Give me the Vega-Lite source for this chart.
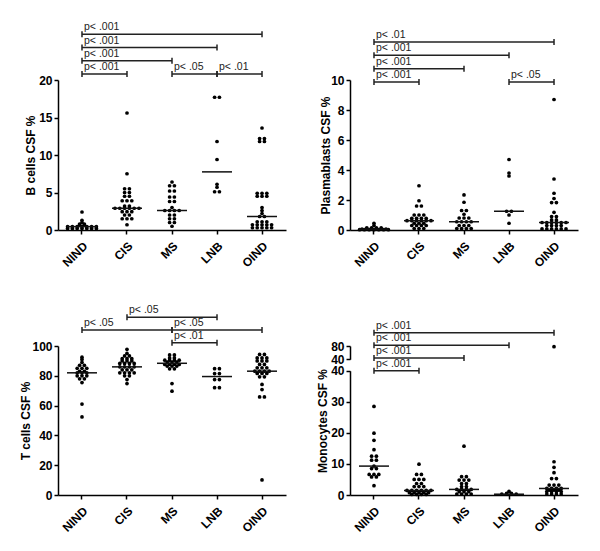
{
  "$schema": "https://vega.github.io/schema/vega-lite/v6.json",
  "background": "white",
  "padding": {"left": 19, "top": 22, "right": 5, "bottom": 5},
  "config": {
    "view": {"stroke": null},
    "font": "Liberation Sans",
    "axis": {"grid": false, "domainColor": "#000", "domainWidth": 1.5, "tickColor": "#000", "tickWidth": 1.5, "tickSize": 4, "labelFont": "Liberation Sans", "labelFontSize": 12, "labelFontWeight": "bold", "labelColor": "#000", "labelPadding": 2, "titleFont": "Liberation Sans", "titleFontSize": 12, "titleFontWeight": "bold", "titleColor": "#000", "labelFlush": false, "labelOverlap": false},
    "axisX": {"labelAngle": -45, "labelAlign": "right", "labelBaseline": "top", "labelPadding": 6},
    "axisY": {"titleBaseline": "middle", "titleAlign": "center", "titleAngle": -90}
  },
  "datasets": {
    "p1": [
      {"g":"NIND","v":2.4},{"g":"NIND","v":1.3},{"g":"NIND","v":1.0},{"g":"NIND","v":0.8},{"g":"NIND","v":0.8},{"g":"NIND","v":0.65},{"g":"NIND","v":0.65},
      {"g":"NIND","v":0.45},{"g":"NIND","v":0.45},{"g":"NIND","v":0.45},{"g":"NIND","v":0.45},{"g":"NIND","v":0.45},{"g":"NIND","v":0.45},{"g":"NIND","v":0.45},
      {"g":"NIND","v":0.2},{"g":"NIND","v":0.2},{"g":"NIND","v":0.2},{"g":"NIND","v":0.2},{"g":"NIND","v":0.2},{"g":"NIND","v":0.2},{"g":"NIND","v":0.2},
      {"g":"CIS","v":15.6},{"g":"CIS","v":7.5},{"g":"CIS","v":5.5},{"g":"CIS","v":5.5},{"g":"CIS","v":5.0},{"g":"CIS","v":5.0},{"g":"CIS","v":4.5},{"g":"CIS","v":4.5},
      {"g":"CIS","v":3.9},{"g":"CIS","v":3.9},{"g":"CIS","v":3.9},{"g":"CIS","v":3.2},{"g":"CIS","v":3.2},
      {"g":"CIS","v":2.9},{"g":"CIS","v":2.9},{"g":"CIS","v":2.9},{"g":"CIS","v":2.9},{"g":"CIS","v":2.9},{"g":"CIS","v":2.9},
      {"g":"CIS","v":2.45},{"g":"CIS","v":2.45},{"g":"CIS","v":2.45},{"g":"CIS","v":2.0},{"g":"CIS","v":2.0},{"g":"CIS","v":1.5},{"g":"CIS","v":1.5},{"g":"CIS","v":1.5},{"g":"CIS","v":0.7},
      {"g":"MS","v":6.4},{"g":"MS","v":5.9},{"g":"MS","v":5.9},{"g":"MS","v":5.2},{"g":"MS","v":5.2},{"g":"MS","v":4.4},{"g":"MS","v":4.4},{"g":"MS","v":3.8},{"g":"MS","v":3.8},{"g":"MS","v":3.0},
      {"g":"MS","v":2.6},{"g":"MS","v":2.6},{"g":"MS","v":2.6},{"g":"MS","v":2.6},{"g":"MS","v":2.0},{"g":"MS","v":2.0},{"g":"MS","v":1.5},{"g":"MS","v":1.5},{"g":"MS","v":1.0},{"g":"MS","v":1.0},{"g":"MS","v":0.5},
      {"g":"LNB","v":17.7},{"g":"LNB","v":17.7},{"g":"LNB","v":11.8},{"g":"LNB","v":9.4},{"g":"LNB","v":6.1},{"g":"LNB","v":5.7},{"g":"LNB","v":5.1},{"g":"LNB","v":5.1},
      {"g":"OIND","v":13.6},{"g":"OIND","v":12.2},{"g":"OIND","v":12.2},{"g":"OIND","v":11.8},{"g":"OIND","v":11.8},{"g":"OIND","v":4.9},{"g":"OIND","v":4.9},{"g":"OIND","v":4.9},
      {"g":"OIND","v":4.5},{"g":"OIND","v":4.5},{"g":"OIND","v":4.5},{"g":"OIND","v":3.0},{"g":"OIND","v":2.6},{"g":"OIND","v":2.2},{"g":"OIND","v":1.8},{"g":"OIND","v":1.8},
      {"g":"OIND","v":1.1},{"g":"OIND","v":1.1},{"g":"OIND","v":1.1},{"g":"OIND","v":0.7},{"g":"OIND","v":0.7},{"g":"OIND","v":0.7},{"g":"OIND","v":0.7},{"g":"OIND","v":0.7},
      {"g":"OIND","v":0.3},{"g":"OIND","v":0.3},{"g":"OIND","v":0.3},{"g":"OIND","v":0.3},{"g":"OIND","v":0.3}
    ],
    "p2": [
      {"g":"NIND","v":0.45},{"g":"NIND","v":0.3},{"g":"NIND","v":0.15},{"g":"NIND","v":0.15},{"g":"NIND","v":0.15},{"g":"NIND","v":0.15},
      {"g":"NIND","v":0.06},{"g":"NIND","v":0.06},{"g":"NIND","v":0.06},{"g":"NIND","v":0.06},{"g":"NIND","v":0.06},{"g":"NIND","v":0.06},
      {"g":"NIND","v":0.02},{"g":"NIND","v":0.02},{"g":"NIND","v":0.02},{"g":"NIND","v":0.02},{"g":"NIND","v":0.02},{"g":"NIND","v":0.02},{"g":"NIND","v":0.02},
      {"g":"CIS","v":2.95},{"g":"CIS","v":1.95},{"g":"CIS","v":1.6},{"g":"CIS","v":1.6},{"g":"CIS","v":1.0},{"g":"CIS","v":1.0},{"g":"CIS","v":1.0},
      {"g":"CIS","v":0.78},{"g":"CIS","v":0.78},{"g":"CIS","v":0.78},{"g":"CIS","v":0.78},
      {"g":"CIS","v":0.62},{"g":"CIS","v":0.62},{"g":"CIS","v":0.62},{"g":"CIS","v":0.62},{"g":"CIS","v":0.62},{"g":"CIS","v":0.62},
      {"g":"CIS","v":0.45},{"g":"CIS","v":0.45},{"g":"CIS","v":0.45},{"g":"CIS","v":0.3},{"g":"CIS","v":0.3},{"g":"CIS","v":0.3},{"g":"CIS","v":0.3},{"g":"CIS","v":0.1},{"g":"CIS","v":0.1},{"g":"CIS","v":0.1},
      {"g":"MS","v":2.34},{"g":"MS","v":1.85},{"g":"MS","v":1.3},{"g":"MS","v":1.3},{"g":"MS","v":1.05},{"g":"MS","v":0.8},{"g":"MS","v":0.8},{"g":"MS","v":0.8},
      {"g":"MS","v":0.55},{"g":"MS","v":0.55},{"g":"MS","v":0.55},{"g":"MS","v":0.55},{"g":"MS","v":0.3},{"g":"MS","v":0.3},{"g":"MS","v":0.3},
      {"g":"MS","v":0.1},{"g":"MS","v":0.1},{"g":"MS","v":0.1},{"g":"MS","v":0.1},
      {"g":"LNB","v":4.7},{"g":"LNB","v":3.8},{"g":"LNB","v":3.6},{"g":"LNB","v":1.25},{"g":"LNB","v":1.25},{"g":"LNB","v":1.0},{"g":"LNB","v":0.45},
      {"g":"OIND","v":8.7},{"g":"OIND","v":3.4},{"g":"OIND","v":2.45},{"g":"OIND","v":2.1},{"g":"OIND","v":1.83},{"g":"OIND","v":1.83},{"g":"OIND","v":1.18},
      {"g":"OIND","v":0.9},{"g":"OIND","v":0.9},{"g":"OIND","v":0.67},{"g":"OIND","v":0.67},
      {"g":"OIND","v":0.5},{"g":"OIND","v":0.5},{"g":"OIND","v":0.5},{"g":"OIND","v":0.5},{"g":"OIND","v":0.5},{"g":"OIND","v":0.5},
      {"g":"OIND","v":0.3},{"g":"OIND","v":0.3},{"g":"OIND","v":0.3},{"g":"OIND","v":0.3},
      {"g":"OIND","v":0.07},{"g":"OIND","v":0.07},{"g":"OIND","v":0.07},{"g":"OIND","v":0.07},{"g":"OIND","v":0.07},{"g":"OIND","v":0.07}
    ],
    "p3": [
      {"g":"NIND","v":92.5},{"g":"NIND","v":91},{"g":"NIND","v":89},{"g":"NIND","v":87},{"g":"NIND","v":87},{"g":"NIND","v":85},{"g":"NIND","v":85},{"g":"NIND","v":85},
      {"g":"NIND","v":83},{"g":"NIND","v":83},{"g":"NIND","v":82},{"g":"NIND","v":82},{"g":"NIND","v":82},{"g":"NIND","v":80},{"g":"NIND","v":80},{"g":"NIND","v":80},
      {"g":"NIND","v":78},{"g":"NIND","v":78},{"g":"NIND","v":75.5},{"g":"NIND","v":61},{"g":"NIND","v":52.4},
      {"g":"CIS","v":97.8},{"g":"CIS","v":95},{"g":"CIS","v":93.3},{"g":"CIS","v":93.3},{"g":"CIS","v":91.5},{"g":"CIS","v":91.5},{"g":"CIS","v":91.5},
      {"g":"CIS","v":90},{"g":"CIS","v":90},{"g":"CIS","v":90},{"g":"CIS","v":88.3},{"g":"CIS","v":88.3},{"g":"CIS","v":88.3},{"g":"CIS","v":88.3},
      {"g":"CIS","v":86},{"g":"CIS","v":86},{"g":"CIS","v":86},{"g":"CIS","v":86},{"g":"CIS","v":84},{"g":"CIS","v":84},{"g":"CIS","v":84},
      {"g":"CIS","v":82},{"g":"CIS","v":82},{"g":"CIS","v":82},{"g":"CIS","v":82},{"g":"CIS","v":80},{"g":"CIS","v":80},{"g":"CIS","v":77.5},{"g":"CIS","v":74.8},
      {"g":"MS","v":94},{"g":"MS","v":94},{"g":"MS","v":92},{"g":"MS","v":92},{"g":"MS","v":90.5},{"g":"MS","v":90.5},{"g":"MS","v":90.5},{"g":"MS","v":90.5},
      {"g":"MS","v":89.2},{"g":"MS","v":89.2},{"g":"MS","v":89.2},{"g":"MS","v":87.6},{"g":"MS","v":87.6},{"g":"MS","v":87.6},{"g":"MS","v":87.6},
      {"g":"MS","v":86.5},{"g":"MS","v":86.5},{"g":"MS","v":86.5},{"g":"MS","v":84.7},{"g":"MS","v":84.7},{"g":"MS","v":74.8},{"g":"MS","v":69.7},
      {"g":"LNB","v":84.8},{"g":"LNB","v":84.8},{"g":"LNB","v":81.5},{"g":"LNB","v":81.5},{"g":"LNB","v":77.5},{"g":"LNB","v":77.5},{"g":"LNB","v":72},{"g":"LNB","v":72},
      {"g":"OIND","v":94.3},{"g":"OIND","v":94.3},{"g":"OIND","v":92},{"g":"OIND","v":92},{"g":"OIND","v":92},{"g":"OIND","v":90},{"g":"OIND","v":90},{"g":"OIND","v":90},
      {"g":"OIND","v":87.6},{"g":"OIND","v":87.6},{"g":"OIND","v":85.4},{"g":"OIND","v":85.4},{"g":"OIND","v":85.4},
      {"g":"OIND","v":83.1},{"g":"OIND","v":83.1},{"g":"OIND","v":83.1},{"g":"OIND","v":83.1},{"g":"OIND","v":81.6},{"g":"OIND","v":81.6},{"g":"OIND","v":81.6},
      {"g":"OIND","v":79.3},{"g":"OIND","v":79.3},{"g":"OIND","v":74.2},{"g":"OIND","v":70.8},{"g":"OIND","v":65.8},{"g":"OIND","v":65.8},{"g":"OIND","v":10.1}
    ],
    "p4": [
      {"g":"NIND","v":28.5},{"g":"NIND","v":19.9},{"g":"NIND","v":17.6},{"g":"NIND","v":14.6},{"g":"NIND","v":12.5},{"g":"NIND","v":12.5},{"g":"NIND","v":11.2},{"g":"NIND","v":11.2},
      {"g":"NIND","v":9.3},{"g":"NIND","v":8.5},{"g":"NIND","v":8.5},{"g":"NIND","v":6.6},{"g":"NIND","v":6.6},{"g":"NIND","v":6.6},{"g":"NIND","v":5.8},{"g":"NIND","v":5.8},{"g":"NIND","v":3.0},
      {"g":"CIS","v":9.9},{"g":"CIS","v":6.6},{"g":"CIS","v":6.6},{"g":"CIS","v":5.0},{"g":"CIS","v":5.0},{"g":"CIS","v":5.0},{"g":"CIS","v":3.7},{"g":"CIS","v":3.7},
      {"g":"CIS","v":2.7},{"g":"CIS","v":2.7},{"g":"CIS","v":2.7},{"g":"CIS","v":1.45},{"g":"CIS","v":1.45},{"g":"CIS","v":1.45},{"g":"CIS","v":1.45},{"g":"CIS","v":1.45},{"g":"CIS","v":1.45},
      {"g":"CIS","v":0.75},{"g":"CIS","v":0.75},{"g":"CIS","v":0.75},{"g":"CIS","v":0.75},{"g":"CIS","v":0.75},{"g":"CIS","v":0.2},{"g":"CIS","v":0.2},{"g":"CIS","v":0.2},{"g":"CIS","v":0.2},
      {"g":"MS","v":15.7},{"g":"MS","v":5.9},{"g":"MS","v":5.9},{"g":"MS","v":4.8},{"g":"MS","v":4.8},{"g":"MS","v":4.8},{"g":"MS","v":3.7},{"g":"MS","v":3.7},{"g":"MS","v":2.7},{"g":"MS","v":2.7},
      {"g":"MS","v":1.8},{"g":"MS","v":1.8},{"g":"MS","v":1.8},{"g":"MS","v":1.8},{"g":"MS","v":1.07},{"g":"MS","v":1.07},{"g":"MS","v":1.07},{"g":"MS","v":0.3},{"g":"MS","v":0.3},{"g":"MS","v":0.3},{"g":"MS","v":0.3},
      {"g":"LNB","v":1.2},{"g":"LNB","v":0.5},{"g":"LNB","v":0.5},{"g":"LNB","v":0.25},{"g":"LNB","v":0.25},{"g":"LNB","v":0.25},{"g":"LNB","v":0.25},
      {"g":"OIND","v":78},{"g":"OIND","v":10.7},{"g":"OIND","v":8.9},{"g":"OIND","v":7.2},{"g":"OIND","v":5.3},{"g":"OIND","v":5.3},{"g":"OIND","v":3.2},{"g":"OIND","v":3.2},{"g":"OIND","v":3.2},
      {"g":"OIND","v":2.1},{"g":"OIND","v":2.1},{"g":"OIND","v":2.1},{"g":"OIND","v":2.1},{"g":"OIND","v":1.6},{"g":"OIND","v":1.6},{"g":"OIND","v":1.6},
      {"g":"OIND","v":1.1},{"g":"OIND","v":1.1},{"g":"OIND","v":1.1},{"g":"OIND","v":1.1},{"g":"OIND","v":0.3},{"g":"OIND","v":0.3},{"g":"OIND","v":0.3},{"g":"OIND","v":0.3}
    ],
    "b1": [
      {"a":"NIND","b":"CIS","lv":1,"t":"p< .001"},{"a":"MS","b":"LNB","lv":1,"t":"p< .05"},{"a":"LNB","b":"OIND","lv":1,"t":"p< .01"},
      {"a":"NIND","b":"MS","lv":2,"t":"p< .001"},{"a":"NIND","b":"LNB","lv":3,"t":"p< .001"},{"a":"NIND","b":"OIND","lv":4,"t":"p< .001"}
    ],
    "b2": [
      {"a":"NIND","b":"CIS","lv":1,"t":"p< .001"},{"a":"LNB","b":"OIND","lv":1,"t":"p< .05"},
      {"a":"NIND","b":"MS","lv":2,"t":"p< .001"},{"a":"NIND","b":"LNB","lv":3,"t":"p< .001"},{"a":"NIND","b":"OIND","lv":4,"t":"p< .01"}
    ],
    "b3": [
      {"a":"MS","b":"LNB","lv":1,"t":"p< .01"},{"a":"NIND","b":"MS","lv":2,"t":"p< .05"},{"a":"MS","b":"OIND","lv":2,"t":"p< .05"},{"a":"CIS","b":"LNB","lv":3,"t":"p< .05"}
    ],
    "b4": [
      {"a":"NIND","b":"CIS","lv":1,"t":"p< .001"},{"a":"NIND","b":"MS","lv":2,"t":"p< .001"},{"a":"NIND","b":"LNB","lv":3,"t":"p< .001"},{"a":"NIND","b":"OIND","lv":4,"t":"p< .001"}
    ]
  },
  "columns": 2,
  "spacing": {"row": 116, "column": 64},
  "bounds": "flush",
  "concat": [
    {
      "width": 228, "height": 150,
      "resolve": {"scale": {"y": "independent"}},
      "layer": [
        {
          "data": {"name": "p1"},
          "transform": [
            {"window": [{"op": "row_number", "as": "r"}], "groupby": ["g", "v"]},
            {"joinaggregate": [{"op": "count", "as": "n"}], "groupby": ["g", "v"]},
            {"calculate": "(datum.r - (datum.n + 1) / 2) * 4.8", "as": "dx"}
          ],
          "layer": [
            {"mark": {"type": "point", "filled": true, "size": 14, "color": "#000", "opacity": 1},
             "encoding": {
               "x": {"field": "g", "type": "nominal", "title": null, "scale": {"type": "band", "domain": ["NIND","CIS","MS","LNB","OIND"], "paddingInner": 0, "paddingOuter": 0.033}},
               "xOffset": {"field": "dx", "type": "quantitative", "scale": {"domain": [-22.5, 22.5]}},
               "y": {"field": "v", "type": "quantitative", "title": "B cells CSF %", "scale": {"domain": [0, 20], "nice": false}, "axis": {"values": [0, 5, 10, 15, 20], "titleX": -28}}}},
            {"mark": {"type": "tick", "color": "#111", "thickness": 1.5, "size": 30},
             "encoding": {
               "x": {"field": "g", "type": "nominal", "title": null, "scale": {"type": "band", "domain": ["NIND","CIS","MS","LNB","OIND"], "paddingInner": 0, "paddingOuter": 0.033}},
               "y": {"aggregate": "median", "field": "v", "type": "quantitative", "title": "B cells CSF %", "scale": {"domain": [0, 20], "nice": false}, "axis": {"values": [0, 5, 10, 15, 20], "titleX": -28}}}}
          ]
        },
        {
          "data": {"name": "b1"},
          "encoding": {"y": {"field": "lv", "type": "quantitative", "axis": null, "scale": {"domain": [1, 4], "range": [-6, -45.7]}}},
          "layer": [
            {"mark": {"type": "rule", "color": "#222", "strokeWidth": 1.5},
             "encoding": {"x": {"field": "a", "type": "nominal", "title": null, "scale": {"type": "band", "domain": ["NIND","CIS","MS","LNB","OIND"], "paddingInner": 0, "paddingOuter": 0.033}}, "x2": {"field": "b"}}},
            {"transform": [{"fold": ["a", "b"], "as": ["k", "gx"]}],
             "mark": {"type": "rule", "color": "#222", "strokeWidth": 1.5, "yOffset": -3, "y2Offset": 3},
             "encoding": {"x": {"field": "gx", "type": "nominal", "title": null, "scale": {"type": "band", "domain": ["NIND","CIS","MS","LNB","OIND"], "paddingInner": 0, "paddingOuter": 0.033}}, "y2": {"field": "lv"}}},
            {"mark": {"type": "text", "align": "left", "baseline": "alphabetic", "dx": 2, "dy": -4, "fontSize": 10.5, "color": "#222"},
             "encoding": {"x": {"field": "a", "type": "nominal", "title": null, "scale": {"type": "band", "domain": ["NIND","CIS","MS","LNB","OIND"], "paddingInner": 0, "paddingOuter": 0.033}}, "text": {"field": "t"}}}
          ]
        }
      ]
    },
    {
      "width": 228, "height": 150,
      "resolve": {"scale": {"y": "independent"}},
      "layer": [
        {
          "data": {"name": "p2"},
          "transform": [
            {"window": [{"op": "row_number", "as": "r"}], "groupby": ["g", "v"]},
            {"joinaggregate": [{"op": "count", "as": "n"}], "groupby": ["g", "v"]},
            {"calculate": "(datum.r - (datum.n + 1) / 2) * 4.8", "as": "dx"}
          ],
          "layer": [
            {"mark": {"type": "point", "filled": true, "size": 14, "color": "#000", "opacity": 1},
             "encoding": {
               "x": {"field": "g", "type": "nominal", "title": null, "scale": {"type": "band", "domain": ["NIND","CIS","MS","LNB","OIND"], "paddingInner": 0, "paddingOuter": 0.033}},
               "xOffset": {"field": "dx", "type": "quantitative", "scale": {"domain": [-22.5, 22.5]}},
               "y": {"field": "v", "type": "quantitative", "title": "Plasmablasts CSF %", "scale": {"domain": [0, 10], "nice": false}, "axis": {"values": [0, 2, 4, 6, 8, 10], "titleX": -25}}}},
            {"mark": {"type": "tick", "color": "#111", "thickness": 1.5, "size": 30},
             "encoding": {
               "x": {"field": "g", "type": "nominal", "title": null, "scale": {"type": "band", "domain": ["NIND","CIS","MS","LNB","OIND"], "paddingInner": 0, "paddingOuter": 0.033}},
               "y": {"aggregate": "median", "field": "v", "type": "quantitative", "title": "Plasmablasts CSF %", "scale": {"domain": [0, 10], "nice": false}, "axis": {"values": [0, 2, 4, 6, 8, 10], "titleX": -25}}}}
          ]
        },
        {
          "data": {"name": "b2"},
          "encoding": {"y": {"field": "lv", "type": "quantitative", "axis": null, "scale": {"domain": [1, 4], "range": [2, -38]}}},
          "layer": [
            {"mark": {"type": "rule", "color": "#222", "strokeWidth": 1.5},
             "encoding": {"x": {"field": "a", "type": "nominal", "title": null, "scale": {"type": "band", "domain": ["NIND","CIS","MS","LNB","OIND"], "paddingInner": 0, "paddingOuter": 0.033}}, "x2": {"field": "b"}}},
            {"transform": [{"fold": ["a", "b"], "as": ["k", "gx"]}],
             "mark": {"type": "rule", "color": "#222", "strokeWidth": 1.5, "yOffset": -3, "y2Offset": 3},
             "encoding": {"x": {"field": "gx", "type": "nominal", "title": null, "scale": {"type": "band", "domain": ["NIND","CIS","MS","LNB","OIND"], "paddingInner": 0, "paddingOuter": 0.033}}, "y2": {"field": "lv"}}},
            {"mark": {"type": "text", "align": "left", "baseline": "alphabetic", "dx": 2, "dy": -4, "fontSize": 10.5, "color": "#222"},
             "encoding": {"x": {"field": "a", "type": "nominal", "title": null, "scale": {"type": "band", "domain": ["NIND","CIS","MS","LNB","OIND"], "paddingInner": 0, "paddingOuter": 0.033}}, "text": {"field": "t"}}}
          ]
        }
      ]
    },
    {
      "width": 228, "height": 149,
      "resolve": {"scale": {"y": "independent"}},
      "layer": [
        {
          "data": {"name": "p3"},
          "transform": [
            {"window": [{"op": "row_number", "as": "r"}], "groupby": ["g", "v"]},
            {"joinaggregate": [{"op": "count", "as": "n"}], "groupby": ["g", "v"]},
            {"calculate": "(datum.r - (datum.n + 1) / 2) * 4.8", "as": "dx"}
          ],
          "layer": [
            {"mark": {"type": "point", "filled": true, "size": 14, "color": "#000", "opacity": 1},
             "encoding": {
               "x": {"field": "g", "type": "nominal", "title": null, "scale": {"type": "band", "domain": ["NIND","CIS","MS","LNB","OIND"], "paddingInner": 0, "paddingOuter": 0.033}},
               "xOffset": {"field": "dx", "type": "quantitative", "scale": {"domain": [-22.5, 22.5]}},
               "y": {"field": "v", "type": "quantitative", "title": "T cells CSF %", "scale": {"domain": [0, 100], "nice": false}, "axis": {"values": [0, 20, 40, 60, 80, 100], "titleX": -33}}}},
            {"mark": {"type": "tick", "color": "#111", "thickness": 1.5, "size": 30},
             "encoding": {
               "x": {"field": "g", "type": "nominal", "title": null, "scale": {"type": "band", "domain": ["NIND","CIS","MS","LNB","OIND"], "paddingInner": 0, "paddingOuter": 0.033}},
               "y": {"aggregate": "median", "field": "v", "type": "quantitative", "title": "T cells CSF %", "scale": {"domain": [0, 100], "nice": false}, "axis": {"values": [0, 20, 40, 60, 80, 100], "titleX": -33}}}}
          ]
        },
        {
          "data": {"name": "b3"},
          "encoding": {"y": {"field": "lv", "type": "quantitative", "axis": null, "scale": {"domain": [1, 3], "range": [-3.3, -28.7]}}},
          "layer": [
            {"mark": {"type": "rule", "color": "#222", "strokeWidth": 1.5},
             "encoding": {"x": {"field": "a", "type": "nominal", "title": null, "scale": {"type": "band", "domain": ["NIND","CIS","MS","LNB","OIND"], "paddingInner": 0, "paddingOuter": 0.033}}, "x2": {"field": "b"}}},
            {"transform": [{"fold": ["a", "b"], "as": ["k", "gx"]}],
             "mark": {"type": "rule", "color": "#222", "strokeWidth": 1.5, "yOffset": -3, "y2Offset": 3},
             "encoding": {"x": {"field": "gx", "type": "nominal", "title": null, "scale": {"type": "band", "domain": ["NIND","CIS","MS","LNB","OIND"], "paddingInner": 0, "paddingOuter": 0.033}}, "y2": {"field": "lv"}}},
            {"mark": {"type": "text", "align": "left", "baseline": "alphabetic", "dx": 2, "dy": -4, "fontSize": 10.5, "color": "#222"},
             "encoding": {"x": {"field": "a", "type": "nominal", "title": null, "scale": {"type": "band", "domain": ["NIND","CIS","MS","LNB","OIND"], "paddingInner": 0, "paddingOuter": 0.033}}, "text": {"field": "t"}}}
          ]
        }
      ]
    },
    {
      "width": 228, "height": 149,
      "resolve": {"scale": {"y": "independent"}},
      "layer": [
        {
          "data": {"name": "p4"},
          "transform": [
            {"window": [{"op": "row_number", "as": "r"}], "groupby": ["g", "v"]},
            {"joinaggregate": [{"op": "count", "as": "n"}], "groupby": ["g", "v"]},
            {"calculate": "(datum.r - (datum.n + 1) / 2) * 4.8", "as": "dx"}
          ],
          "layer": [
            {"mark": {"type": "point", "filled": true, "size": 14, "color": "#000", "opacity": 1},
             "encoding": {
               "x": {"field": "g", "type": "nominal", "title": null, "scale": {"type": "band", "domain": ["NIND","CIS","MS","LNB","OIND"], "paddingInner": 0, "paddingOuter": 0.033}},
               "xOffset": {"field": "dx", "type": "quantitative", "scale": {"domain": [-22.5, 22.5]}},
               "y": {"field": "v", "type": "quantitative", "title": "Monocytes CSF %", "scale": {"domain": [0, 40, 40.001, 80], "range": [149, 24.7, 13.3, 0], "nice": false, "zero": false}, "axis": {"values": [0, 10, 20, 30, 40, 40.001, 80], "format": "d", "domainDash": [124.3, 11.4, 40], "titleX": -28}}}},
            {"mark": {"type": "tick", "color": "#111", "thickness": 1.5, "size": 30},
             "encoding": {
               "x": {"field": "g", "type": "nominal", "title": null, "scale": {"type": "band", "domain": ["NIND","CIS","MS","LNB","OIND"], "paddingInner": 0, "paddingOuter": 0.033}},
               "y": {"aggregate": "median", "field": "v", "type": "quantitative", "title": "Monocytes CSF %", "scale": {"domain": [0, 40, 40.001, 80], "range": [149, 24.7, 13.3, 0], "nice": false, "zero": false}, "axis": {"values": [0, 10, 20, 30, 40, 40.001, 80], "format": "d", "domainDash": [124.3, 11.4, 40], "titleX": -28}}}}
          ]
        },
        {
          "data": {"name": "b4"},
          "encoding": {"y": {"field": "lv", "type": "quantitative", "axis": null, "scale": {"domain": [1, 4], "range": [24.7, -13.3]}}},
          "layer": [
            {"mark": {"type": "rule", "color": "#222", "strokeWidth": 1.5},
             "encoding": {"x": {"field": "a", "type": "nominal", "title": null, "scale": {"type": "band", "domain": ["NIND","CIS","MS","LNB","OIND"], "paddingInner": 0, "paddingOuter": 0.033}}, "x2": {"field": "b"}}},
            {"transform": [{"fold": ["a", "b"], "as": ["k", "gx"]}],
             "mark": {"type": "rule", "color": "#222", "strokeWidth": 1.5, "yOffset": -3, "y2Offset": 3},
             "encoding": {"x": {"field": "gx", "type": "nominal", "title": null, "scale": {"type": "band", "domain": ["NIND","CIS","MS","LNB","OIND"], "paddingInner": 0, "paddingOuter": 0.033}}, "y2": {"field": "lv"}}},
            {"mark": {"type": "text", "align": "left", "baseline": "alphabetic", "dx": 2, "dy": -4, "fontSize": 10.5, "color": "#222"},
             "encoding": {"x": {"field": "a", "type": "nominal", "title": null, "scale": {"type": "band", "domain": ["NIND","CIS","MS","LNB","OIND"], "paddingInner": 0, "paddingOuter": 0.033}}, "text": {"field": "t"}}}
          ]
        }
      ]
    }
  ]
}
